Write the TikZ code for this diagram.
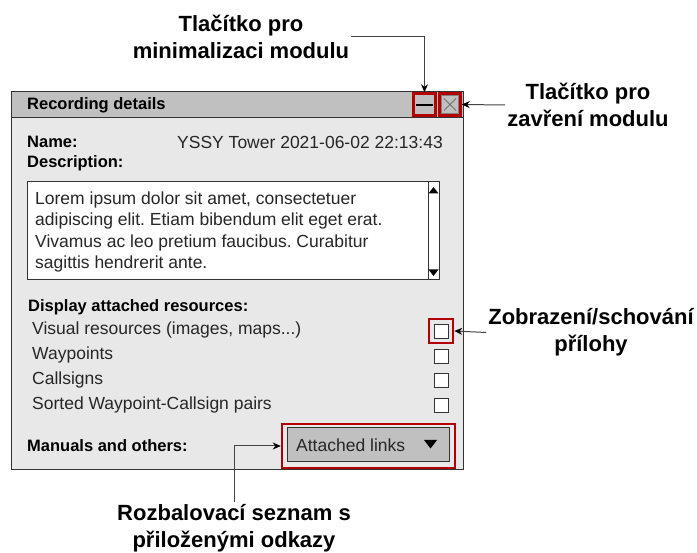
\documentclass[tikz,border=0pt]{standalone}
\usepackage{fontspec}
\setmainfont{Liberation Sans}
\usetikzlibrary{arrows.meta}
\definecolor{panelbg}{HTML}{E8E8E8}
\definecolor{barbg}{HTML}{C0C0C0}
\definecolor{edge}{HTML}{333333}
\definecolor{hlred}{HTML}{B20000}
\definecolor{conn}{HTML}{444444}
\frenchspacing
\begin{document}
\begin{tikzpicture}[x=1pt,y=-1pt,
  note/.style={font=\fontsize{22}{27}\selectfont\bfseries, align=center, inner sep=2pt},
  lbl/.style={font=\fontsize{16.5}{20}\selectfont\bfseries, inner sep=0pt, anchor=west},
  txt/.style={font=\fontsize{17.5}{21.3}\selectfont, inner sep=0pt, anchor=west, text=black!85},
  hl/.style={draw=hlred, line width=2.5pt},
  chk/.style={draw=edge, fill=white, line width=0.8pt, minimum size=14pt, inner sep=0pt},
  arr/.style={draw=conn, line width=1pt, -{Stealth[length=8pt,width=7pt,black]}}
]
\useasboundingbox (0,0) rectangle (697,553);
\fill[white] (0,0) rectangle (697,553);

% panel
\draw[edge, fill=panelbg, line width=1pt] (11,92) rectangle (463,470);
\draw[edge, fill=barbg, line width=1pt] (11,92) rectangle (463,118);
\node[lbl] (title) at (27,105.5) {Recording details};

% title buttons
\node[hl, fill=barbg, minimum width=22pt, minimum height=22pt, inner sep=0pt] (bmin) at (424.5,104.5) {};
\draw[black, line width=1.8pt] (416,105) -- (433,105);
\node[hl, fill=barbg, minimum width=21pt, minimum height=22pt, inner sep=0pt] (bclose) at (450,104.5) {};
\draw[gray, line width=0.8pt] (441.5,95.5) rectangle (458.5,113.5);
\draw[gray!90!black, line width=0.9pt] (444,98.5) -- (456,110.5) (456,98.5) -- (444,110.5);

% name / description
\node[lbl] (name) at (27,142) {Name:};
\node[txt, anchor=east] (nameval) at (443,142) {YSSY Tower 2021-06-02 22:13:43};
\node[lbl] (desc) at (27,163.5) {Description:};
\draw[edge, fill=white, line width=1pt] (27,182) rectangle (439,280);
\draw[edge, line width=1pt] (428,182) -- (428,280);
\fill[black] (433.5,187) -- (438.5,193.5) -- (428.5,193.5) -- cycle;
\fill[black] (428.5,269.5) -- (438.5,269.5) -- (433.5,276) -- cycle;
\node[txt, align=left] (desctext) at (35,232) {Lorem ipsum dolor sit amet, consectetuer\\adipiscing elit. Etiam bibendum elit eget erat.\\Vivamus ac leo pretium faucibus. Curabitur\\sagittis hendrerit ante.};

% attached resources
\node[lbl] (disp) at (28,307) {Display attached resources:};
\node[txt] (r1) at (32,330) {Visual resources (images, maps...)};
\node[txt] (r2) at (32,355) {Waypoints};
\node[txt] (r3) at (32,380) {Callsigns};
\node[txt] (r4) at (32,405) {Sorted Waypoint-Callsign pairs};
\node[chk] (c1) at (441,331) {};
\node[chk] (c2) at (441,356) {};
\node[chk] (c3) at (441,380) {};
\node[chk] (c4) at (441,405) {};
\node[hl, minimum size=24pt, inner sep=0pt] (c1hl) at (441,331) {};

% manuals
\node[lbl] (man) at (27,446) {Manuals and others:};
\node[hl, minimum width=173pt, minimum height=44pt, inner sep=0pt] (ddhl) at (368.5,446) {};
\node[draw=edge, fill=barbg, line width=1pt, minimum width=162pt, minimum height=34pt, inner sep=0pt] (dd) at (368,445) {};
\node[txt] (ddtext) at (296,445) {Attached links};
\fill[black] (424,440) -- (437,440) -- (430.5,448.5) -- cycle;

% annotations
\node[note] (tmin) at (241,36.5) {Tlačítko pro\\minimalizaci modulu};
\node[note] (tclose) at (588,105) {Tlačítko pro\\zavření modulu};
\node[note] (tzob) at (591,332.5) {Zobrazení/schování\\přílohy};
\node[note] (troz) at (234,528.5) {Rozbalovací seznam s\\přiloženými odkazy};

\draw[arr] (tmin.east) -| (bmin.north);
\draw[arr] (tclose.west) -- (bclose.east);
\draw[arr] (tzob.west) -- (c1hl.east);
\draw[arr] (troz.north) |- (ddhl.west);
\end{tikzpicture}
\end{document}
